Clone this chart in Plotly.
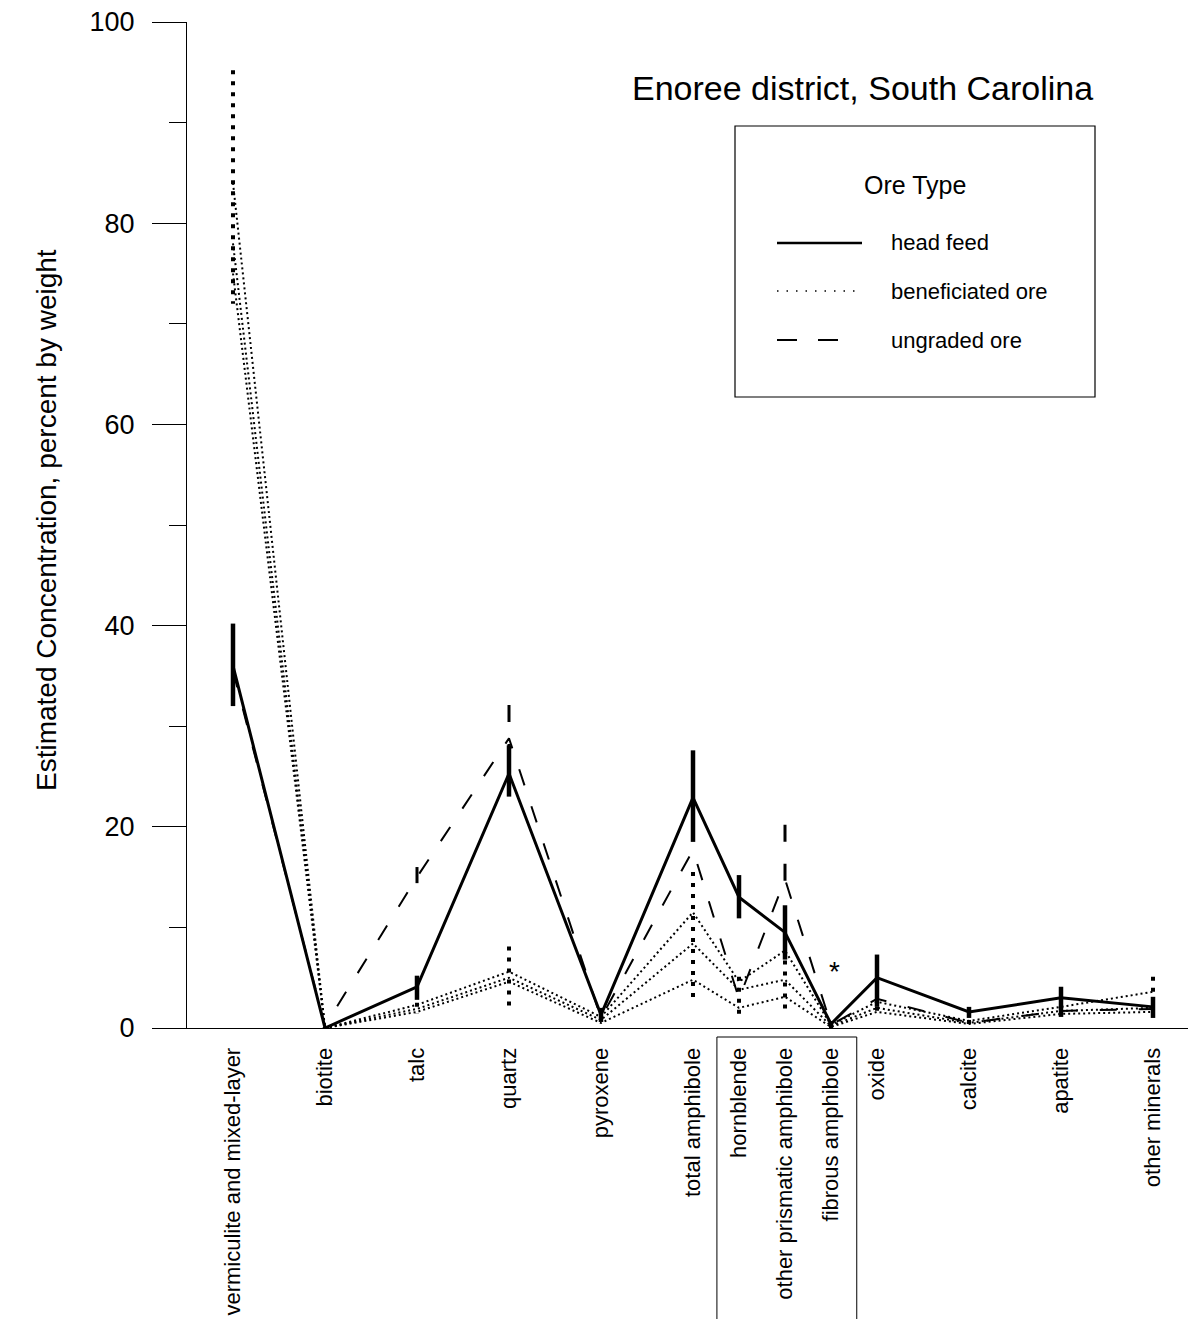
import plotly.graph_objects as go

# ---------------- data ----------------
categories = ["vermiculite and mixed-layer", "biotite", "talc", "quartz", "pyroxene",
              "total amphibole", "hornblende", "other prismatic amphibole",
              "fibrous amphibole", "oxide", "calcite", "apatite", "other minerals"]
category_x = [0, 1, 2, 3, 4, 5, 5.5, 6, 6.5, 7, 8, 9, 10]

head_mean = [36.0, 0.0, 4.1, 25.3, 1.3, 22.9, 13.0, 9.5, 0.4, 5.0, 1.6, 3.0, 2.1]
head_low = [32.0, 0.0, 2.8, 23.0, 0.6, 18.5, 10.9, 6.8, 0.3, 2.1, 1.0, 1.1, 1.0]
head_high = [40.2, 0.1, 5.2, 28.1, 2.0, 27.6, 15.2, 12.2, 0.5, 7.3, 2.1, 4.1, 3.1]

ung_mean = [35.5, 0.2, 15.0, 28.8, 1.0, 17.7, 2.9, 14.8, 0.3, 2.9, 0.5, 1.7, 1.9]
ung_low = [35.5, 0.2, 14.4, 25.0, 1.0, 17.7, 2.9, 14.2, 0.3, 2.9, 0.5, 1.7, 1.9]
ung_high = [35.5, 0.2, 16.0, 32.1, 1.0, 17.7, 2.9, 20.2, 0.3, 2.9, 0.5, 1.7, 1.9]

ben_1 = [84.0, 0.0, 2.3, 5.6, 1.1, 11.5, 4.6, 7.7, 0.3, 2.6, 0.7, 2.1, 3.6]
ben_2 = [78.0, 0.0, 1.9, 5.0, 0.8, 8.4, 3.8, 4.8, 0.2, 2.0, 0.5, 1.7, 2.0]
ben_3 = [75.0, 0.0, 1.6, 4.6, 0.5, 4.8, 2.0, 3.1, 0.1, 1.6, 0.4, 1.4, 1.6]
ben_low = [72.0, 0.0, 1.4, 1.6, 0.3, 2.5, 1.3, 1.3, 0.0, 1.4, 0.3, 1.2, 1.2]
ben_high = [95.2, 0.0, 2.5, 8.1, 1.2, 15.5, 5.1, 7.8, 0.4, 3.2, 0.8, 2.3, 5.1]

title_text = "Enoree district, South Carolina"
y_title = "Estimated Concentration, percent by weight"
legend_title = "Ore Type"
legend_labels = ["head feed", "beneficiated ore", "ungraded ore"]

FONT = "Liberation Sans, Arial, sans-serif"


def range_segments(xs, lo, hi):
    """vertical segments (drawn top -> bottom) for ranges with non-zero length"""
    sx, sy = [], []
    for x, l, h in zip(xs, lo, hi):
        if h - l > 0:
            sx += [x, x, None]
            sy += [h, l, None]
    return sx, sy


fig = go.Figure()

# beneficiated ore: dotted
for series in (ben_1, ben_2, ben_3):
    fig.add_trace(go.Scatter(x=category_x, y=series, mode="lines",
                             line=dict(color="black", width=2, dash="2px,3px"),
                             showlegend=False, hoverinfo="skip"))
bx, by = range_segments(category_x, ben_low, ben_high)
fig.add_trace(go.Scatter(x=bx, y=by, mode="lines",
                         line=dict(color="black", width=4, dash="4px,7px"),
                         showlegend=False, hoverinfo="skip"))

# ungraded ore: dashed
fig.add_trace(go.Scatter(x=category_x, y=ung_mean, mode="lines",
                         line=dict(color="black", width=2, dash="17px,22px"),
                         showlegend=False, hoverinfo="skip"))
ux, uy = range_segments(category_x, ung_low, ung_high)
fig.add_trace(go.Scatter(x=ux, y=uy, mode="lines",
                         line=dict(color="black", width=3, dash="17px,22px"),
                         showlegend=False, hoverinfo="skip"))

# head feed: solid with thick range bars
fig.add_trace(go.Scatter(
    x=category_x, y=head_mean, mode="lines",
    line=dict(color="black", width=3),
    error_y=dict(type="data", symmetric=False,
                 array=[h - m for h, m in zip(head_high, head_mean)],
                 arrayminus=[m - l for m, l in zip(head_mean, head_low)],
                 color="black", thickness=4.5, width=0),
    showlegend=False, hoverinfo="skip"))

# ---------------- layout ----------------
# the page adds an 8px body margin; figure is sized/shifted to compensate
OFF = 8
W, H = 1197 - 2 * OFF, 1327 - 2 * OFF
PL, PR, PT, PB = 187, 1188, 22, 1028          # plot area in window pixels
L, T = PL - OFF, PT - OFF
R = W - (PR - OFF)
B = H - (PB - OFF)
pw, ph = PR - PL, PB - PT


def px_x(p):
    return (p - PL) / pw


def px_y(p):
    return (PB - p) / ph


annotations = [
    dict(text=title_text, x=px_x(1095), y=px_y(88), xref="paper", yref="paper",
         xanchor="right", yanchor="middle", showarrow=False,
         font=dict(size=34, color="black", family=FONT)),
    dict(text=y_title, x=px_x(46), y=px_y(520), xref="paper", yref="paper",
         xanchor="center", yanchor="middle", textangle=-90, showarrow=False,
         font=dict(size=28, color="black", family=FONT)),
    dict(text=legend_title, x=px_x(915), y=px_y(185), xref="paper", yref="paper",
         xanchor="center", yanchor="middle", showarrow=False,
         font=dict(size=25, color="black", family=FONT)),
    dict(text="*", x=6.5, y=5.6, xref="x", yref="y", xshift=3,
         xanchor="center", yanchor="middle", showarrow=False,
         font=dict(size=28, color="black", family=FONT)),
]
legend_y = [243, 291, 340]
for lab, ly in zip(legend_labels, legend_y):
    annotations.append(dict(text=lab, x=px_x(889), y=px_y(ly), xref="paper", yref="paper",
                            xanchor="left", yanchor="middle", showarrow=False,
                            font=dict(size=22, color="black", family=FONT)))

shapes = [
    # legend box
    dict(type="rect", xref="paper", yref="paper",
         x0=px_x(735), x1=px_x(1095), y0=px_y(397), y1=px_y(126),
         line=dict(color="black", width=1.2), fillcolor="rgba(0,0,0,0)"),
    dict(type="line", xref="paper", yref="paper",
         x0=px_x(777), x1=px_x(862), y0=px_y(243), y1=px_y(243),
         line=dict(color="black", width=2.7)),
    dict(type="line", xref="paper", yref="paper",
         x0=px_x(777), x1=px_x(862), y0=px_y(291), y1=px_y(291),
         line=dict(color="black", width=1.3, dash="1.5px,8px")),
    dict(type="line", xref="paper", yref="paper",
         x0=px_x(777), x1=px_x(838), y0=px_y(340), y1=px_y(340),
         line=dict(color="black", width=2, dash="20px,21px")),
    # box around amphibole sub-categories
    dict(type="rect", xref="x", yref="paper",
         x0=5.26, x1=6.78, y0=px_y(1345), y1=px_y(1037),
         line=dict(color="black", width=1), fillcolor="rgba(0,0,0,0)", layer="above"),
]

fig.update_layout(
    width=W, height=H,
    margin=dict(l=L, r=R, t=T, b=B, autoexpand=False),
    plot_bgcolor="white", paper_bgcolor="white",
    font=dict(family=FONT, color="black"),
    showlegend=False,
    xaxis=dict(range=[-0.5, (PR - PL) / 92 - 0.5], showgrid=False, zeroline=False,
               showline=True, linecolor="black", linewidth=1,
               tickmode="array", tickvals=category_x, ticktext=categories,
               tickangle=-90, ticks="", ticklabelstandoff=10,
               ticklabeloverflow="allow",
               tickfont=dict(size=22, family=FONT, color="black")),
    yaxis=dict(range=[0, 100], showgrid=False, zeroline=False,
               showline=True, linecolor="black", linewidth=1,
               tickmode="linear", tick0=0, dtick=20, ticks="outside",
               ticklen=34, tickwidth=1, tickcolor="black", ticklabelstandoff=12,
               ticklabeloverflow="allow",
               tickfont=dict(size=27, family=FONT, color="black"),
               minor=dict(dtick=10, ticks="outside", ticklen=17,
                          tickwidth=1, tickcolor="black")),
    annotations=annotations,
    shapes=shapes,
)

fig.write_html("out.html")
